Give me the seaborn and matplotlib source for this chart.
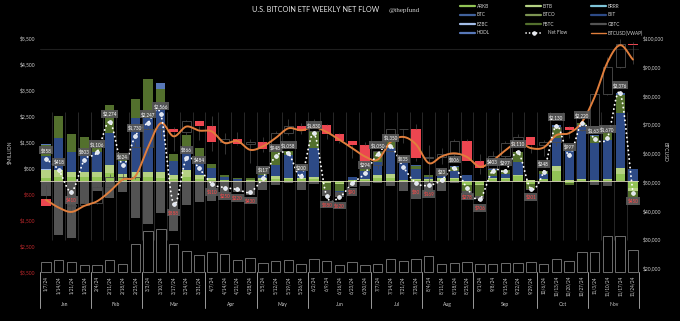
import numpy as np
import matplotlib
matplotlib.use("Agg")
import matplotlib.pyplot as plt
import seaborn as sns
from matplotlib.lines import Line2D
from matplotlib.transforms import blended_transform_factory

sns.set_theme(style="dark", rc={"axes.facecolor": "black", "figure.facecolor": "black",
                                "savefig.facecolor": "black", "axes.edgecolor": "black"})
plt.rcParams['font.family'] = ['Lato', 'DejaVu Sans']

# ---------------- data ----------------
WEEKS = ["1/7/24", "1/14/24", "1/21/24", "1/28/24", "2/4/24", "2/11/24", "2/18/24", "2/25/24",
         "3/3/24", "3/10/24", "3/17/24", "3/24/24", "3/31/24", "4/7/24", "4/14/24", "4/21/24",
         "4/28/24", "5/5/24", "5/12/24", "5/19/24", "5/26/24", "6/2/24", "6/9/24", "6/16/24",
         "6/23/24", "6/30/24", "7/7/24", "7/14/24", "7/21/24", "7/28/24", "8/4/24", "8/11/24",
         "8/18/24", "8/25/24", "9/1/24", "9/8/24", "9/15/24", "9/22/24", "9/29/24", "10/6/24",
         "10/13/24", "10/20/24", "10/27/24", "11/3/24", "11/10/24", "11/17/24", "11/24/24"]
MONTHS = ["Jan", "Feb", "Mar", "Apr", "May", "Jun", "Jul", "Aug", "Sep", "Oct", "Nov"]
WEEKS_PER_MONTH = [4, 4, 5, 4, 4, 5, 4, 4, 5, 4, 4]

NET_FLOW = [858, 418, -410, 803, 1106, 2274, 624, 1730, 2247, 2566, -888, 866, 484, -110, -250,
            -320, -430, 117, 948, 1058, 200, 1830, -580, -620, -90, 294, 1050, 1350, 535, -80,
            -169, 33, 506, -278, -706, 403, 397, 1110, -301, 348, 2130, 997, 2220, 1630, 1670,
            3376, -450]

ARKB = [130, 160, 150, 150, 150, 300, 110, 150, 160, 120, 90, 170, 90, 40, 20, 0, 20, 40, 90, 60,
        60, 90, -50, -80, 30, 50, 130, 120, 20, 40, 30, 50, 70, -150, -120, 60, 70, 180, -120, 60,
        380, -60, 30, 30, 30, 270, -250]
BITB = [280, 260, 210, 210, 200, 315, 150, 210, 200, 240, 140, 250, 150, 60, 30, 15, 20, 60, 110,
        60, 60, 80, -30, -40, 20, 20, 100, 140, 35, 37, 30, 60, 60, -20, -40, 40, 40, 70, 50, 20,
        180, 20, 30, 20, 50, 220, -130]
IBIT = [497, 1220, 770, 770, 760, 1220, 520, 2050, 2050, 2620, 540, 900, 650, 400, 120, 60, 0, 120,
        400, 870, 330, 1100, 0, -30, 100, 300, 520, 1000, 800, 400, 100, 120, 250, 220, -20, 100,
        170, 500, 0, 200, 1100, 1100, 2100, 1400, 1500, 2110, 480]
FBTC = [422, 870, 670, 570, 390, 1085, 280, 730, 1500, 560, 270, 450, 390, 150, 60, 40, 75, 240,
        500, 160, 100, 660, -250, -270, -40, 100, 380, 290, 80, 100, 90, 150, 150, -200, -400, 220,
        140, 350, -200, 100, 400, -80, 60, 300, 300, 700, -300]
BTC = [0, 0, 0, 0, 0, 0, 0, 0, 0, 0, 0, 0, 0, 0, 0, 0, 0, 0, 0, 0, 0, 0, 0, 0, 0, 0, 0, 0, 0, 50,
       0, 40, 50, 10, 0, 30, 20, 30, 0, 0, 100, 30, 20, 20, 0, 76, 0]
HODL = [40, 0, 0, 0, 0, 0, 0, 0, 0, 240, 0, 0, 0, 0, 0, 0, 0, 0, 0, 0, 0, 0, 0, 0, 0, 0, 0, 0, 0,
        0, 0, 0, 0, 0, 0, 0, 0, 0, 0, 0, 0, 0, 0, 0, 0, 0, 0]
BTCO = [30, 0, 0, 0, 0, 0, 0, 0, 0, 0, 0, 0, 0, 0, 0, 0, 0, 0, 0, 0, 0, 0, 0, 0, 0, 0, 0, 0, 0,
        0, 0, 0, 0, 0, 0, 0, 0, 0, 0, 0, 0, 0, 0, 0, 0, 0, 0]
EZBC = [20, 0, 0, 0, 0, 0, 0, 0, 0, 0, 0, 0, 0, 0, 0, 0, 0, 0, 0, 0, 0, 0, 0, 0, 0, 0, 0, 0, 0,
        0, 0, 0, 0, 0, 0, 0, 0, 0, 0, 0, 0, 0, 0, 0, 0, 0, 0]
BRRR = [18, 0, 0, 0, 0, 0, 0, 0, 0, 0, 0, 0, 0, 0, 0, 0, 0, 0, 0, 0, 0, 0, 0, 0, 0, 0, 0, 0, 0,
        0, 0, 0, 0, 0, 0, 0, 0, 0, 0, 0, 0, 0, 0, 0, 0, 0, 0]
GBTC = [-579, -2090, -2210, -897, -394, -646, -436, -1410, -1663, -1214, -1928, -904, -796, -760,
        -480, -435, -545, -343, -152, -92, -350, -100, -250, -200, -200, -176, -80, -200, -400,
        -707, -419, -387, -74, -138, -126, -47, -43, -20, -31, -32, -30, -13, -20, -140, -210, 0,
        -250]

VOLUME_BN = [5.5, 6.4, 5.3, 4.0, 4.0, 6.8, 4.6, 15.6, 22.6, 23.7, 15.6, 11.6, 9.5, 11.2, 9.7, 6.8,
             7.9, 5.0, 5.9, 6.8, 4.6, 7.3, 6.0, 4.0, 5.5, 4.0, 4.6, 7.3, 6.0, 7.3, 8.6, 4.6, 5.1,
             5.5, 4.6, 4.2, 5.0, 5.0, 5.5, 4.6, 7.3, 6.0, 11.0, 11.0, 19.8, 19.8, 11.9]

BTC_OPEN = [43900, 41700, 41600, 42000, 42600, 48300, 51600, 51700, 62000, 68300, 68400, 67200,
            71300, 69400, 63900, 64900, 63100, 63900, 61500, 66900, 69300, 67800, 69600, 66600,
            64300, 62700, 55900, 60800, 68200, 68200, 58200, 58700, 59500, 64200, 57300, 54800,
            59100, 63600, 65600, 62800, 63900, 69000, 68000, 69400, 80400, 89800, 98000]
BTC_CLOSE = [41700, 41600, 42000, 42600, 48300, 51600, 51700, 62000, 68300, 68400, 67200, 71300,
             69400, 63900, 64900, 63100, 63900, 61500, 66900, 69300, 67800, 69600, 66600, 64300,
             62700, 55900, 60800, 68200, 68200, 58200, 58700, 59500, 64200, 57300, 54800, 59100,
             63600, 65600, 62800, 63900, 69000, 68000, 69400, 80400, 89800, 98000, 97400]
BTC_HIGH = [48900, 43600, 42200, 43800, 48600, 52800, 52900, 64000, 69200, 73800, 68900, 71600,
            71300, 72700, 66800, 67200, 64700, 65500, 67700, 71900, 70600, 71900, 70200, 66900,
            64300, 63800, 59500, 68400, 68500, 70000, 62700, 61800, 65000, 64900, 59800, 60600,
            64100, 66500, 65600, 64500, 69400, 69500, 73600, 81500, 93400, 99600, 98700]
BTC_LOW = [41500, 40300, 38500, 41800, 42300, 47700, 50700, 50900, 59000, 64600, 60800, 66400,
           64500, 60700, 59700, 62800, 56500, 60200, 60800, 66300, 66700, 67500, 65000, 63400,
           58400, 53500, 54300, 60600, 63500, 57200, 49000, 56100, 57800, 57200, 52600, 54600,
           57600, 62600, 59900, 58900, 62500, 65100, 67600, 66800, 80200, 89400, 90800]
BTC_VWAP = [43700, 41000, 39500, 41600, 43200, 46600, 50700, 51900, 62000, 70400, 65800, 69200,
            67800, 67500, 63500, 64200, 61100, 62300, 65200, 68600, 67900, 69000, 67300, 64600,
            61700, 58800, 57700, 63800, 65600, 63000, 56500, 58800, 59900, 58600, 55200, 57300,
            60900, 63700, 61700, 61900, 66200, 66900, 70700, 79500, 91500, 97500, 92500]

LEFT_TICKS = [5500, 4500, 3500, 2500, 1500, 500, -500, -1500, -2500, -3500]
RIGHT_TICKS = [20000, 30000, 40000, 50000, 60000, 70000, 80000, 90000, 100000]

FLOWS = {"ARKB": ARKB, "BITB": BITB, "BRRR": BRRR, "BTC": BTC, "BTCO": BTCO, "IBIT": IBIT,
         "EZBC": EZBC, "FBTC": FBTC, "GBTC": GBTC, "HODL": HODL}
COLORS = {"ARKB": "#92c456", "BITB": "#b5d283", "BRRR": "#7fc4d8", "BTC": "#41629c",
          "BTCO": "#7d9452", "IBIT": "#2d4a86", "EZBC": "#a3bde8", "FBTC": "#53702d",
          "GBTC": "#535353", "HODL": "#5878b8"}
POS_ORDER = ["ARKB", "BITB", "BRRR", "EZBC", "BTCO", "IBIT", "FBTC", "BTC", "HODL", "GBTC"]
NEG_ORDER = ["ARKB", "BITB", "FBTC", "IBIT", "BTC", "BRRR", "EZBC", "BTCO", "HODL", "GBTC"]

# ---------------- helpers ----------------
def smooth(xs, ys, n=14):
    P = np.column_stack([np.asarray(xs, float), np.asarray(ys, float)])
    P = np.vstack([2 * P[0] - P[1], P, 2 * P[-1] - P[-2]])
    t = np.linspace(0, 1, n, endpoint=False)[:, None]
    out = []
    for i in range(1, len(P) - 2):
        p0, p1, p2, p3 = P[i - 1], P[i], P[i + 1], P[i + 2]
        seg = 0.5 * (2 * p1 + (-p0 + p2) * t + (2 * p0 - 5 * p1 + 4 * p2 - p3) * t ** 2
                     + (-p0 + 3 * p1 - 3 * p2 + p3) * t ** 3)
        out.append(seg)
    out.append(P[-2][None])
    return np.vstack(out)

# ---------------- figure ----------------
W, H = 680, 321
fig = plt.figure(figsize=(W / 100, H / 100), dpi=100)
AX_TOP, AX_BOT, AX_L, AX_R = 30, 274, 39.6, 639.3
ax = fig.add_axes([AX_L / W, 1 - AX_BOT / H, (AX_R - AX_L) / W, (AX_BOT - AX_TOP) / H])
axv = ax.twinx()
ax2 = ax.twinx()
ax3 = ax.twinx()

n = len(WEEKS)
x = np.arange(n)
LEFT_LIM = (-3577, 5808)
RIGHT_LIM = (17913, 102783)

for a in (ax, axv, ax2, ax3):
    for s in a.spines.values():
        s.set_visible(False)
    a.grid(False)
ax.set_facecolor("black")

# faint category separators
ax.vlines(x[:-1] + 0.5, -2270, 2650, color="#2e2e2e", lw=0.6, zorder=0)
ax.axhline(5077, color="#1e1e1e", lw=0.8, zorder=0)

# stacked ETF flow bars
pos_base = np.zeros(n)
neg_base = np.zeros(n)
for name in POS_ORDER:
    v = np.array(FLOWS[name], float)
    p = np.where(v > 0, v, 0)
    ax.bar(x, p, bottom=pos_base, width=0.72, color=COLORS[name], lw=0, zorder=2)
    pos_base += p
for name in NEG_ORDER:
    v = np.array(FLOWS[name], float)
    q = np.where(v < 0, v, 0)
    ax.bar(x, q, bottom=neg_base, width=0.72, color=COLORS[name], lw=0, zorder=2)
    neg_base += q
ax.axhline(0, color="#dcd8bc", lw=0.6, zorder=3)
ax.set_ylim(*LEFT_LIM)
ax.set_xlim(-0.5, n - 0.5)

# volume
axv.bar(x, VOLUME_BN, width=0.74, fill=False, edgecolor="#7e7e7e", lw=0.6)
axv.set_ylim(-1.1, 133.1)
axv.set_yticks([])

# BTC candles + VWAP
o = np.array(BTC_OPEN, float)
c = np.array(BTC_CLOSE, float)
hi = np.array(BTC_HIGH, float)
lo = np.array(BTC_LOW, float)
up = c >= o
bb = np.minimum(o, c)
bt = np.maximum(o, c)
ax2.vlines(x, bt, hi, color="#4a4a4a", lw=0.5)
ax2.vlines(x, lo, bb, color="#4a4a4a", lw=0.5)
ax2.bar(x[up], (bt - bb)[up], bottom=bb[up], width=0.72, fill=False, edgecolor="#4d4d4d", lw=0.6)
ax2.bar(x[~up], (bt - bb)[~up], bottom=bb[~up], width=0.72, color="#ec4650", lw=0)
vw = smooth(x, BTC_VWAP)
sns.lineplot(x=vw[:, 0], y=vw[:, 1], ax=ax2, color="#e07e3c", lw=1.4, sort=False, estimator=None)
ax2.set_ylim(*RIGHT_LIM)
ax2.set_yticks(RIGHT_TICKS)
ax2.set_yticklabels([f"${t:,}" for t in RIGHT_TICKS])
ax2.tick_params(axis="y", length=0, pad=2.7, labelsize=3.6, colors="#d0d0d0")
ax2.set_ylabel("BTCUSD", rotation=270, fontsize=3.6, color="#d0d0d0")
ax2.yaxis.set_label_coords((668 - AX_L) / (AX_R - AX_L), 0.5)

# net flow line
nf = smooth(x, NET_FLOW)
ax3.plot(nf[:, 0], nf[:, 1], color="white", lw=1.35, ls=(0, (0.1, 2.2)), dash_capstyle="round")
ax3.plot(x, NET_FLOW, ls="none", marker="o", ms=2.7, mfc="#dfe6f2", mec="white", mew=0.5)
for i, v in enumerate(NET_FLOW):
    col = "white" if v >= 0 else "#ff4a4a"
    ax3.annotate(f"${abs(v):,}", (i, v), xytext=(0, 6 if v >= 0 else -6), textcoords="offset points",
                 ha="center", va="center", fontsize=3.3, color=col,
                 bbox=dict(boxstyle="square,pad=0.25", fc="#585858", ec="none", alpha=0.92))
ax3.set_ylim(*LEFT_LIM)
ax3.set_yticks([])

# left axis ticks
ax.set_yticks(LEFT_TICKS)
ax.set_yticklabels([f"${abs(t):,}" for t in LEFT_TICKS])
for t, lab in zip(LEFT_TICKS, ax.get_yticklabels()):
    lab.set_color("#d0d0d0" if t > 0 else "#c0282c")
ax.tick_params(axis="y", length=0, pad=3.3, labelsize=3.6)
ax.set_ylabel("$MILLION", fontsize=3.6, color="#d0d0d0")
ax.yaxis.set_label_coords((12 - AX_L) / (AX_R - AX_L), 0.5)

# x ticks & months
ax.set_xticks(x)
ax.set_xticklabels(WEEKS, rotation=90)
ax.tick_params(axis="x", length=0, pad=1.5, labelsize=3.3, colors="#cfcfcf")
trans = blended_transform_factory(ax.transData, ax.transAxes)
bounds = np.cumsum([0] + WEEKS_PER_MONTH) - 0.5
for xb in bounds:
    ax.plot([xb, xb], [0.008, -0.139], transform=trans, color="#9a9a9a", lw=0.7, clip_on=False)
for k, m in enumerate(MONTHS):
    ax.text((bounds[k] + bounds[k + 1]) / 2, -0.123, m, transform=trans, ha="center", va="center",
            fontsize=3.6, color="#d0d0d0")

# title
fig.text(252 / W, 1 - 10 / H, "U.S. BITCOIN ETF WEEKLY NET FLOW", ha="left", va="center",
         fontsize=5.2, color="#e6e6e6")
fig.text(389 / W, 1 - 10 / H, "@thepfund", ha="left", va="center", fontsize=5,
         color="#cfcfcf", family="Liberation Serif")

# legend (manual, 3 columns x 4 rows)
cols = [["ARKB", "BTC", "EZBC", "HODL"], ["BITB", "BTCO", "FBTC", "Net Flow"],
        ["BRRR", "IBIT", "GBTC", "BTCUSD(VWAP)"]]
col_x = [460, 526, 591]
row_y = [6, 15, 24, 33]
for cx, items in zip(col_x, cols):
    for ry, name in zip(row_y, items):
        yf = 1 - ry / H
        x0, x1 = cx / W, (cx + 15) / W
        if name == "Net Flow":
            fig.add_artist(Line2D([x0, x1], [yf, yf], transform=fig.transFigure, color="white",
                                  lw=1.2, ls=(0, (0.1, 2.0)), dash_capstyle="round"))
            fig.add_artist(Line2D([(x0 + x1) / 2], [yf], transform=fig.transFigure, ls="none",
                                  marker="o", ms=2.6, mfc="#e4e9f2", mec="white", mew=0.5))
        elif name == "BTCUSD(VWAP)":
            fig.add_artist(Line2D([x0, x1], [yf, yf], transform=fig.transFigure,
                                  color="#e07e3c", lw=1.0))
        else:
            fig.add_artist(Line2D([x0, x1], [yf, yf], transform=fig.transFigure,
                                  color=COLORS[name], lw=1.6))
        fig.text((cx + 17 + (5 if name == "Net Flow" else 0)) / W, yf, name, ha="left",
                 va="center", fontsize=3.4, color="#d0d0d0")

fig.savefig("out.png", dpi=100, facecolor="black")
